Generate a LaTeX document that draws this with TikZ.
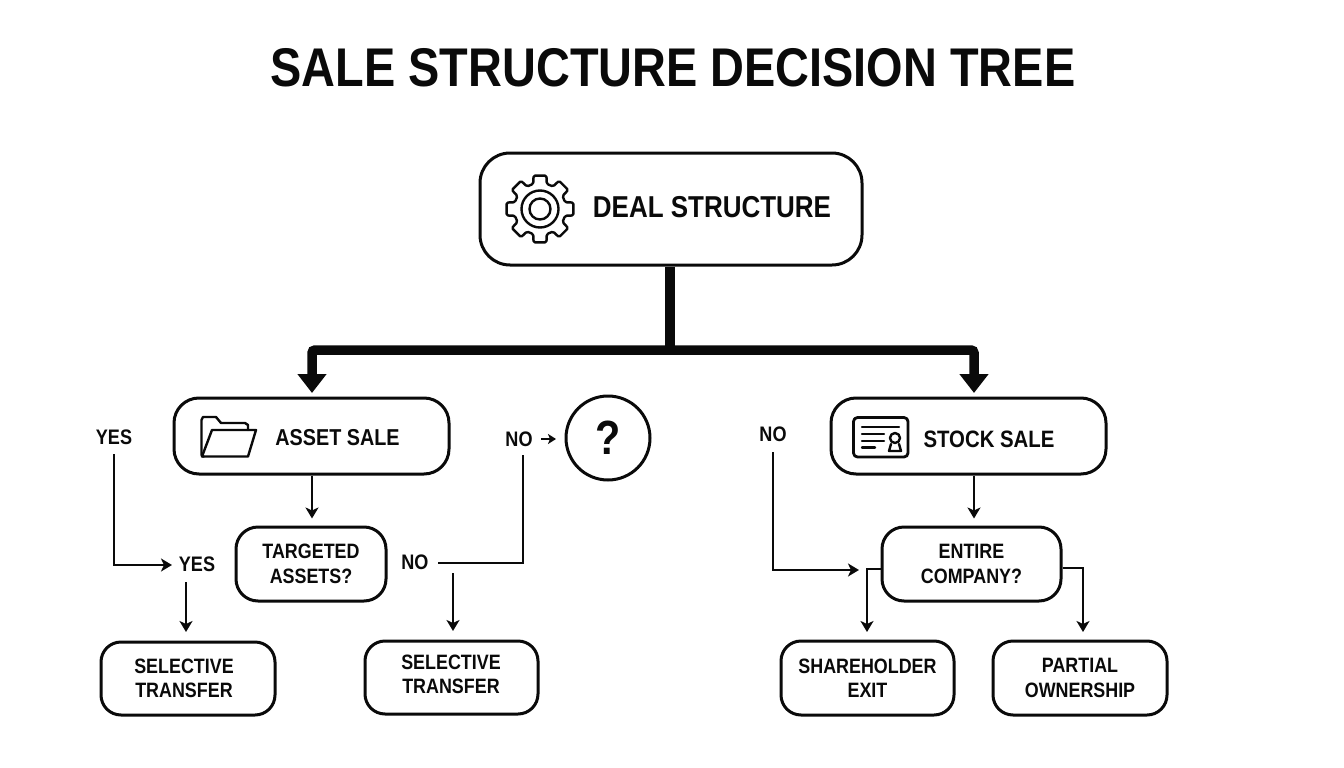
\documentclass[tikz,border=0pt]{standalone}
\usepackage{fontspec}
\setmainfont{Liberation Sans}[FakeStretch=0.86]
\usetikzlibrary{arrows.meta,calc}
\definecolor{ink}{HTML}{0A0A0A}
\tikzset{
  box/.style={draw=ink,line width=3pt,rounded corners=#1,inner sep=0pt,fill=white},
  box/.default=22pt,
  txt/.style={text=ink,font=\bfseries\fontsize{20.8}{24.5}\selectfont,align=center,inner sep=0pt},
  small/.style={text=ink,font=\bfseries\fontsize{21}{24}\selectfont,align=center,inner sep=0pt},
  thin/.style={draw=ink,line width=2.1pt,-{Stealth[length=11pt,width=13pt,inset=3pt]}},
  plain/.style={draw=ink,line width=2.1pt},
  trunk/.style={draw=ink,line width=9.5pt,rounded corners=3pt},
  bigarrow/.style={trunk,-{Triangle[length=19pt,width=28pt]}},
  icon/.style={draw=ink,line width=2.4pt,line join=round,line cap=round},
}
\begin{document}
\begin{tikzpicture}[x=1pt,y=-1pt]
\useasboundingbox (0,0) rectangle (1344,768);
\fill[white] (0,0) rectangle (1344,768);
\node[text=ink,font=\bfseries\fontsize{54.5}{60}\selectfont,inner sep=0pt] (title) at (673,68) {SALE STRUCTURE DECISION TREE};
% boxes
\node[box=30pt,minimum width=382pt,minimum height=112pt] (deal) at (671,209) {};
\node[box=25pt,minimum width=275pt,minimum height=76pt] (asset) at (311.5,436) {};
\node[box=25pt,minimum width=275pt,minimum height=76pt] (stock) at (968.5,436) {};
\node[box=22pt,minimum width=150pt,minimum height=74pt,txt] (target) at (311,564) {TARGETED\\ASSETS?};
\node[box=22pt,minimum width=179pt,minimum height=74pt,txt] (entire) at (971.5,564) {ENTIRE\\COMPANY?};
\node[box=20pt,minimum width=174pt,minimum height=73pt] (sel1) at (188,678.5) {};
\node[txt] (sel1t) at (184,678.5) {SELECTIVE\\TRANSFER};
\node[box=20pt,minimum width=173pt,minimum height=73pt] (sel2) at (451.5,677.5) {};
\node[txt] (sel2t) at (451,674.5) {SELECTIVE\\TRANSFER};
\node[box=20pt,minimum width=173pt,minimum height=74pt,txt] (share) at (867.5,678) {SHAREHOLDER\\EXIT};
\node[box=20pt,minimum width=174pt,minimum height=74pt,txt] (part) at (1080,678) {PARTIAL\\OWNERSHIP};
\node[draw=ink,line width=3pt,circle,minimum size=84pt,inner sep=0pt,text=ink,font=\bfseries\fontsize{48}{48}\selectfont] (quest) at (608,438) {?};
% box captions
\node[text=ink,font=\bfseries\fontsize{30.2}{30}\selectfont,inner sep=0pt] (dealt) at (712,207) {DEAL STRUCTURE};
\node[text=ink,font=\bfseries\fontsize{23}{23}\selectfont,inner sep=0pt] (assett) at (337.5,438) {ASSET SALE};
\node[text=ink,font=\bfseries\fontsize{23.7}{23}\selectfont,inner sep=0pt] (stockt) at (989,439) {STOCK SALE};
% free labels
\node[small] (yesa) at (114,437) {YES};
\node[small] (yesb) at (197,564) {YES};
\node[small] (noa) at (415,562) {NO};
\node[small] (nob) at (519,439) {NO};
\node[small] (noc) at (773,434) {NO};
% bend and end points
\coordinate (jn) at (670,350);
\coordinate (left) at (312,350);
\coordinate (right) at (974,350);
\coordinate (leftend) at (312,393);
\coordinate (rightend) at (974,393);
\coordinate (ya1) at (114,454);
\coordinate (ya2) at (114,565);
\coordinate (ya3) at (172,565);
\coordinate (yb1) at (186,582);
\coordinate (yb2) at (186,632);
\coordinate (na1) at (438,563);
\coordinate (na2) at (523,563);
\coordinate (na3) at (523,455);
\coordinate (ns1) at (453,573);
\coordinate (ns2) at (453,631);
\coordinate (nb1) at (541,439);
\coordinate (nb2) at (556,439);
\coordinate (nc1) at (773,452);
\coordinate (nc2) at (773,570);
\coordinate (nc3) at (859,570);
\coordinate (el1) at (867,569);
\coordinate (el2) at (867,632);
\coordinate (er1) at (1083,568);
\coordinate (er2) at (1083,632);
% trunk
\draw[trunk] (deal.south -| jn) -- (jn);
\draw[bigarrow] (jn) -- (left) -- (leftend);
\draw[bigarrow] (jn) -- (right) -- (rightend);
% thin connectors
\draw[thin] (asset.south -| leftend) -- ++(0,43);
\draw[thin] (stock.south -| rightend) -- ++(0,43);
\draw[thin] (ya1) -- (ya2) -- (ya3);
\draw[thin] (yb1) -- (yb2);
\draw[plain] (na1) -- (na2) -- (na3);
\draw[thin] (ns1) -- (ns2);
\draw[draw=ink,line width=1.8pt,-{Stealth[length=8pt,width=10pt,inset=2pt]}] (nb1) -- (nb2);
\draw[thin] (nc1) -- (nc2) -- (nc3);
\draw[thin] (entire.west |- el1) -- (el1) -- (el2);
\draw[thin] (entire.east |- er1) -- (er1) -- (er2);
% gear icon
\begin{scope}[shift={(540,209)}]
\draw[icon,rounded corners=1.5pt]
  \foreach \a [count=\i] in {0,45,...,315} {
    \ifnum\i=1 ($(\a-11:34)$) \else -- ($(\a-11:34)$) \fi
    -- ($(\a+11:34)$) -- ($(\a+15:26)$) -- ($(\a+30:26)$)
  } -- cycle;
\draw[icon] (0,0) circle (18.5pt);
\draw[icon] (0,0) circle (10.5pt);
\end{scope}
% folder icon
\draw[icon] (204,456.5) -- (203,456.5) -- (201.5,455) -- (201.5,420) -- (203,417) -- (216,417) -- (221,423) -- (245,423) -- (248,425) -- (248,430);
\draw[icon] (202,456.5) -- (248,456.5) -- (256,430) -- (212,430) -- cycle;
% certificate icon
\draw[icon,line width=2.8pt,rounded corners=4pt] (853.5,417.5) rectangle (908,457);
\draw[icon] (862,427) -- (899,427);
\draw[icon] (862,434) -- (884,434);
\draw[icon] (862,441) -- (884,441);
\draw[icon] (862,447.5) -- (875,447.5);
\draw[icon] (895,438) circle (5pt);
\draw[icon] (891,444) -- (889,451) -- (901,451) -- (899,444);
\end{tikzpicture}
\end{document}
